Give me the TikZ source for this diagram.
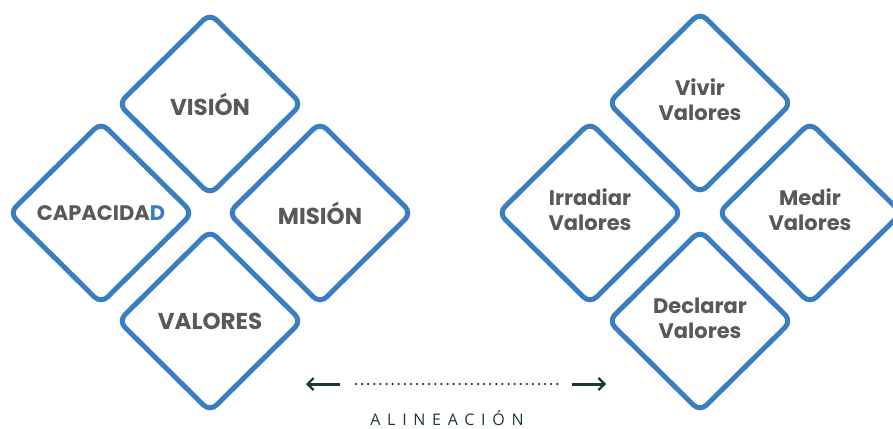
\documentclass[tikz,border=0pt]{standalone}
\usepackage{fontspec}
\setmainfont{Poppins}
\newfontfamily\alinfont[LetterSpace=42]{Open Sans}
\usetikzlibrary{shapes.geometric,arrows.meta}
\definecolor{dblue}{RGB}{58,126,193}
\definecolor{tgray}{RGB}{89,89,89}
\definecolor{dgreen}{RGB}{27,58,44}
\tikzset{
  dia/.style={shape=diamond, draw=dblue, line width=5pt, rounded corners=9pt,
    minimum width=185pt, minimum height=183pt, inner sep=0pt, fill=white,
    text=tgray, font=\fontsize{23}{27}\selectfont\bfseries, align=center},
  dia2/.style={dia, font=\fontsize{21}{25}\selectfont\bfseries},
  arr/.style={draw=dgreen, line width=3pt, -{Straight Barb[length=6pt,width=12pt,line width=2.2pt]}},
  dots/.style={draw=dgreen, line width=2.5pt, line cap=round, dash pattern=on 0pt off 6.1pt}
}
\newcommand\twolines[3]{\raisebox{#3}{\begin{tabular}{@{}c@{}}#1\\#2\end{tabular}}}
\begin{document}
\begin{tikzpicture}[x=1pt,y=-1pt]
\useasboundingbox (0,0) rectangle (893,428);
% left group
\node[dia] (vision) at (210,104) {VISIÓN};
\node[dia] (capacidad) at (101,213) {\fontsize{21}{25}\selectfont CAPACIDA\textcolor{dblue}{D}};
\node[dia] (mision) at (320,213) {MISIÓN};
\node[dia] (valores) at (210,321) {VALORES};
% right group
\node[dia2] (vivir) at (700,103) {\twolines{Vivir}{Valores}{3pt}};
\node[dia2] (irradiar) at (590,213) {\twolines{Irradiar}{Valores}{0pt}};
\node[dia2] (medir) at (810,213) {\twolines{Medir}{Valores}{0pt}};
\node[dia2] (declarar) at (700,321) {\twolines{Declarar}{Valores}{2pt}};
% alineacion
\coordinate (la) at (340,384);
\coordinate (lt) at (306,384);
\coordinate (ds) at (356,384);
\coordinate (de) at (560,384);
\coordinate (ra) at (572,384);
\coordinate (rt) at (606,384);
\draw[arr] (la) -- (lt);
\draw[dots] (ds) -- (de);
\draw[arr] (ra) -- (rt);
\node[text=dgreen, inner sep=0pt, anchor=base, font=\alinfont\fontsize{16}{19}\selectfont] (alin) at (447,425) {ALINEACIÓN};
\end{tikzpicture}
\end{document}
